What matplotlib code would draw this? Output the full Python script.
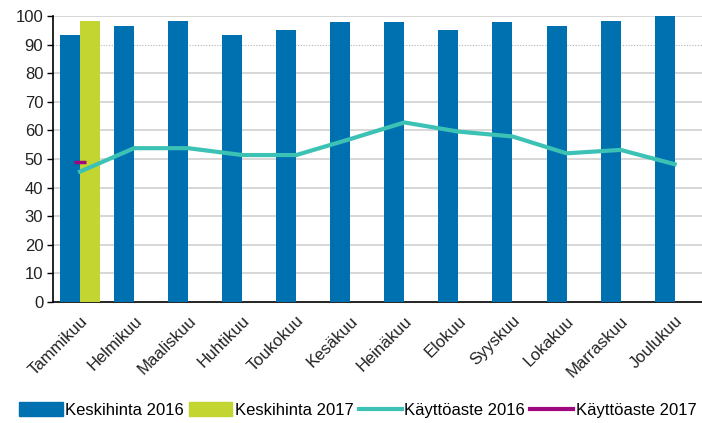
import matplotlib
matplotlib.use("Agg")
import matplotlib.pyplot as plt
import numpy as np
from matplotlib.patches import Patch
from matplotlib.lines import Line2D

months = ["Tammikuu", "Helmikuu", "Maaliskuu", "Huhtikuu", "Toukokuu", "Kesäkuu",
          "Heinäkuu", "Elokuu", "Syyskuu", "Lokakuu", "Marraskuu", "Joulukuu"]
keskihinta_2016 = [93.3, 96.7, 98.4, 93.3, 95.0, 97.8, 97.8, 95.0, 97.8, 96.7, 98.4, 100.0]
keskihinta_2017 = [98.4]
kayttoaste_2016 = [45.6, 53.8, 53.8, 51.4, 51.4, 57.0, 62.8, 59.6, 57.9, 52.0, 53.2, 48.2]
kayttoaste_2017 = [48.9]

c_blue = "#0071b0"
c_green = "#c3d530"
c_teal = "#3cc2b4"
c_purple = "#a0087e"

plt.rcParams["font.family"] = ["Liberation Sans", "DejaVu Sans"]

fig = plt.figure(figsize=(7.02, 4.23), dpi=100)
ax = fig.add_axes([0.0755, 0.286, 0.924, 0.676])

x = np.arange(len(months))
w = 0.37
ax.bar(x - w / 2, keskihinta_2016, width=w, color=c_blue, zorder=3)
ax.bar(x[:len(keskihinta_2017)] + w / 2, keskihinta_2017, width=w, color=c_green, zorder=3)
ax.plot(x, kayttoaste_2016, color=c_teal, lw=3, zorder=4)
ax.plot(x[:len(kayttoaste_2017)], kayttoaste_2017, color=c_purple, lw=0, marker="_",
        markersize=9, markeredgewidth=2.5, zorder=5)

ax.set_xlim(-0.5, len(months) - 0.5)
ax.set_ylim(0, 100)
ax.set_yticks(np.arange(0, 101, 10))
for v in range(10, 101, 10):
    if v == 90:
        ax.axhline(v, color="#b5b5b5", lw=0.8, ls=(0, (1, 1.5)), zorder=1)
    else:
        ax.axhline(v, color="#d4d4d4", lw=1.3, zorder=1)

ax.set_xticks(x)
ax.set_xticklabels(months, rotation=45, ha="right", rotation_mode="anchor")
ax.tick_params(axis="x", length=0, pad=8, labelsize=12, colors="#222222")
ax.tick_params(axis="y", length=4, width=1, labelsize=12, colors="black",
               labelcolor="#222222", pad=3)

for s in ["top", "right"]:
    ax.spines[s].set_visible(False)
ax.spines["left"].set_color("black")
ax.spines["bottom"].set_color("black")
ax.spines["left"].set_linewidth(1.2)
ax.spines["bottom"].set_linewidth(1.2)

handles = [
    Patch(color=c_blue, label="Keskihinta 2016"),
    Patch(color=c_green, label="Keskihinta 2017"),
    Line2D([], [], color=c_teal, lw=3, label="Käyttöaste 2016"),
    Line2D([], [], color=c_purple, lw=3, label="Käyttöaste 2017"),
]
fig.legend(handles=handles, loc="center", bbox_to_anchor=(0.51, 0.03), ncol=4,
           frameon=False, fontsize=12, handlelength=2.6, handleheight=0.9,
           handletextpad=0.15, columnspacing=0.3, borderaxespad=0, borderpad=0)

fig.savefig("out.png", dpi=100)
